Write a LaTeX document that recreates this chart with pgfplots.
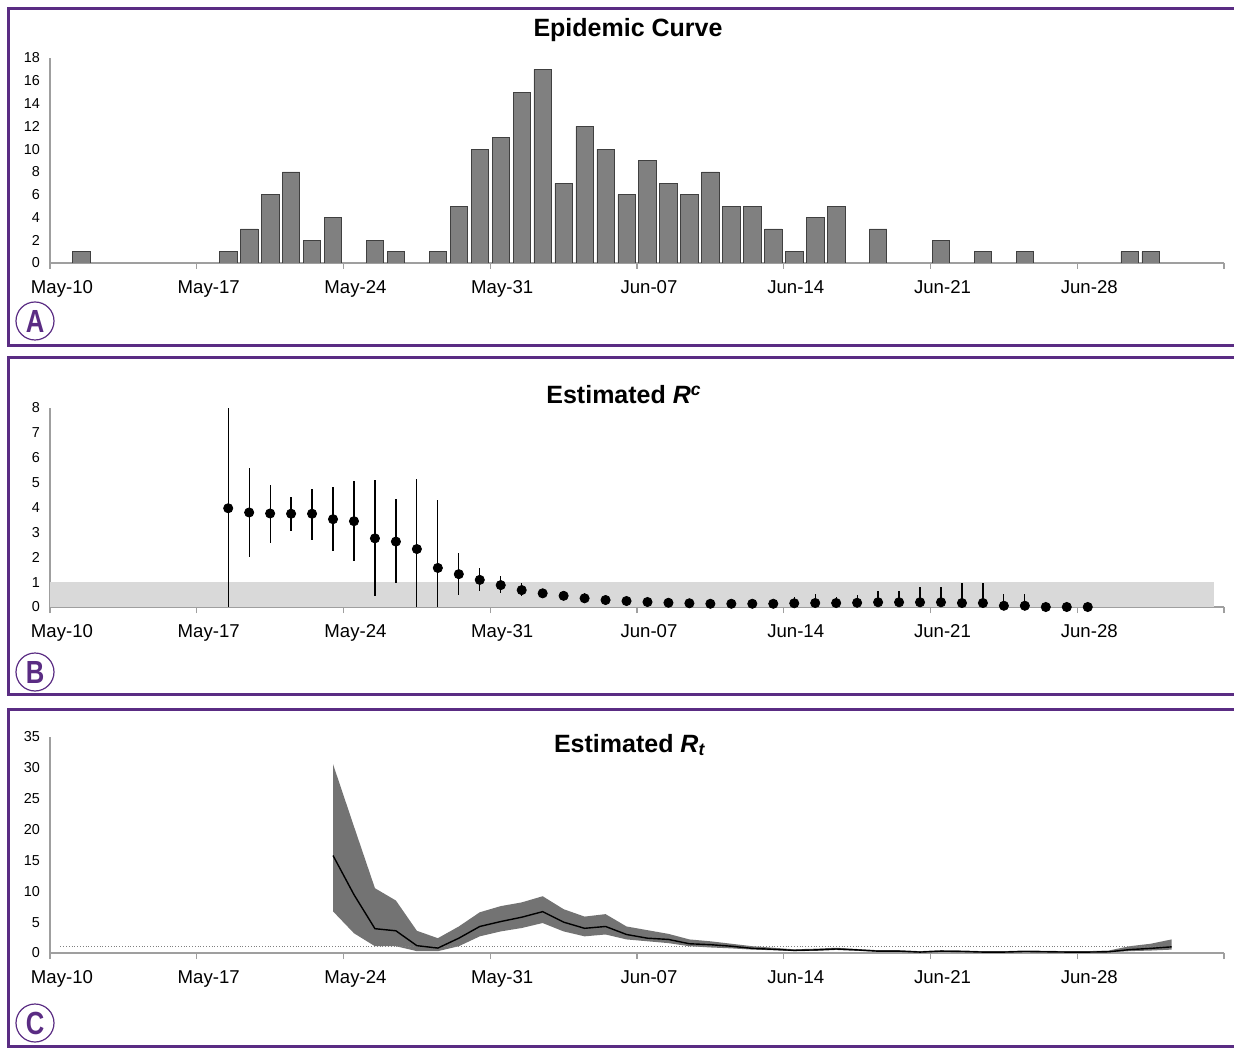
\documentclass[border=0pt]{standalone}
\usepackage{fontspec}
\setmainfont{Liberation Sans}
\usepackage{pgfplots}
\pgfplotsset{compat=1.18}
\usepackage{pgfplotstable}
\definecolor{framec}{RGB}{90,44,131}
\definecolor{barc}{RGB}{128,128,128}
\definecolor{bandc}{RGB}{217,217,217}
\definecolor{rtc}{RGB}{115,115,115}

\pgfplotstableread{
x y ep em
8.5 3.97 4.03 3.97
9.5 3.80 1.80 1.80
10.5 3.76 1.14 1.19
11.5 3.75 0.68 0.68
12.5 3.75 1.01 1.05
13.5 3.53 1.30 1.28
14.5 3.45 1.62 1.60
15.5 2.76 2.33 2.32
16.5 2.63 1.70 1.66
17.5 2.33 2.80 2.33
18.5 1.57 2.74 1.57
19.5 1.32 0.85 0.83
20.5 1.09 0.48 0.46
21.5 0.88 0.37 0.33
22.5 0.68 0.28 0.24
23.5 0.55 0.15 0.10
24.5 0.45 0.15 0.10
25.5 0.35 0.23 0.15
26.5 0.28 0.14 0.08
27.5 0.24 0.12 0.06
28.5 0.20 0.10 0.05
29.5 0.17 0.19 0.05
30.5 0.15 0.15 0.05
31.5 0.13 0.12 0.05
32.5 0.13 0.12 0.05
33.5 0.13 0.12 0.05
34.5 0.13 0.12 0.05
35.5 0.15 0.25 0.07
36.5 0.16 0.37 0.08
37.5 0.16 0.24 0.08
38.5 0.17 0.33 0.09
39.5 0.19 0.46 0.11
40.5 0.19 0.46 0.11
41.5 0.19 0.62 0.11
42.5 0.19 0.62 0.11
43.5 0.16 0.81 0.11
44.5 0.16 0.81 0.11
45.5 0.05 0.47 0.05
46.5 0.05 0.47 0.05
47.5 0.00 0.00 0.00
48.5 0.00 0.00 0.00
49.5 0.00 0.00 0.00
}\rctable

\pgfplotstableread{
x m
13.5 15.8
14.5 9.45
15.5 3.94
16.5 3.6
17.5 1.19
18.5 0.8
19.5 2.4
20.5 4.3
21.5 5.1
22.5 5.8
23.5 6.7
24.5 5.0
25.5 4.0
26.5 4.3
27.5 3.0
28.5 2.4
29.5 2.2
30.5 1.5
31.5 1.35
32.5 1.1
33.5 0.75
34.5 0.6
35.5 0.43
36.5 0.5
37.5 0.65
38.5 0.5
39.5 0.3
40.5 0.3
41.5 0.15
42.5 0.3
43.5 0.25
44.5 0.15
45.5 0.15
46.5 0.25
47.5 0.2
48.5 0.15
49.5 0.15
50.5 0.2
51.5 0.55
52.5 0.75
53.5 1.0
}\rttable

\pgfplotsset{
  panel/.style={
    scale only axis, width=587pt,
    xmin=0, xmax=56,
    axis lines*=left,
    axis line style={draw=gray!75, line width=0.6pt},
    xtick={0,7,...,56},
    xticklabels={May-10,May-17,May-24,May-31,Jun-07,Jun-14,Jun-21,Jun-28,{}},
    x tick style={draw=gray!75, line width=0.6pt},
    tick align=outside, major tick length=3pt,
    ytick style={draw=none},
    xticklabel style={font=\fontsize{9.3}{10}\selectfont, text height=7pt, text depth=2pt, xshift=6pt, yshift=-1.5pt},
    yticklabel style={font=\fontsize{7.2}{8}\selectfont, xshift=1.5pt},
    /pgf/number format/assume math mode=true,
  }
}

\begin{document}
\begin{tikzpicture}[x=0.5pt,y=0.5pt]
\useasboundingbox (0,0) rectangle (1234,1050);
\coordinate (pA) at (50,787);
\coordinate (pB) at (50,443);
\coordinate (pC) at (50,97);
% frames
\draw[framec, line width=1.5pt] (1260,1041) -- (8.5,1041) -- (8.5,704.5) -- (1260,704.5);
\draw[framec, line width=1.5pt] (1260,692.5) -- (8.5,692.5) -- (8.5,356) -- (1260,356);
\draw[framec, line width=1.5pt] (1260,341) -- (8.5,341) -- (8.5,3.5) -- (1260,3.5);
% circled labels
\foreach \yy/\lab in {729/A,378/B,27/C}{
  \draw[framec, line width=0.6pt] (35,\yy) circle[radius=19];
  \node[text=framec, font=\fontsize{16}{16}\selectfont\bfseries, xscale=0.8] at (35,\yy) {\lab};
}
% titles
\node[font=\fontsize{12.5}{15}\selectfont\bfseries] at (628,1020) {Epidemic Curve};
\node[font=\fontsize{12.5}{15}\selectfont\bfseries] at (624,655) {Estimated \textit{R}\textsuperscript{\textit{c}}};
\node[font=\fontsize{12.5}{15}\selectfont\bfseries] at (630,305) {Estimated \textit{R}\textsubscript{\textit{t}}};

% Panel A
\begin{axis}[panel, at={(pA)}, anchor=south west, height=102.5pt,
  ymin=0, ymax=18, ytick={0,2,...,18}]
\addplot[ybar, bar width=0.83, fill=barc, draw=black!75, line width=0.3pt] coordinates {
(1.5,1) (8.5,1) (9.5,3) (10.5,6) (11.5,8) (12.5,2) (13.5,4) (15.5,2) (16.5,1)
(18.5,1) (19.5,5) (20.5,10) (21.5,11) (22.5,15) (23.5,17) (24.5,7) (25.5,12)
(26.5,10) (27.5,6) (28.5,9) (29.5,7) (30.5,6) (31.5,8) (32.5,5) (33.5,5)
(34.5,3) (35.5,1) (36.5,4) (37.5,5) (39.5,3) (42.5,2) (44.5,1) (46.5,1)
(51.5,1) (52.5,1)};
\end{axis}

% Panel B
\begin{axis}[panel, at={(pB)}, anchor=south west, height=99.5pt,
  ymin=0, ymax=8, ytick={0,1,...,8}]
\addplot[fill=bandc, draw=none] coordinates {(0,1) (55.5,1)} \closedcycle;
\addplot[only marks, mark=*, mark size=2.3pt, black,
  error bars/.cd, y dir=both, y explicit, error mark=none,
  error bar style={line width=0.6pt, black}]
  table[x=x, y=y, y error plus=ep, y error minus=em]{\rctable};
\end{axis}

% Panel C
\begin{axis}[panel, at={(pC)}, anchor=south west, height=108pt,
  ymin=0, ymax=35, ytick={0,5,...,35}]
\addplot[fill=rtc, draw=none] coordinates {
(13.5,30.6)(14.5,20.5)(15.5,10.5)(16.5,8.5)(17.5,3.6)(18.5,2.4)(19.5,4.3)(20.5,6.6)
(21.5,7.6)(22.5,8.2)(23.5,9.2)(24.5,7.1)(25.5,5.9)(26.5,6.3)(27.5,4.3)(28.5,3.7)
(29.5,3.1)(30.5,2.2)(31.5,1.9)(32.5,1.5)(33.5,1.1)(34.5,0.85)(35.5,0.6)(36.5,0.7)
(37.5,0.85)(38.5,0.65)(39.5,0.45)(40.5,0.45)(41.5,0.3)(42.5,0.45)(43.5,0.4)(44.5,0.3)
(45.5,0.3)(46.5,0.4)(47.5,0.35)(48.5,0.3)(49.5,0.3)(50.5,0.4)(51.5,1.1)(52.5,1.5)(53.5,2.2)
(53.5,0.55)(52.5,0.4)(51.5,0.3)(50.5,0.1)(49.5,0.08)(48.5,0.08)(47.5,0.1)(46.5,0.15)
(45.5,0.08)(44.5,0.08)(43.5,0.15)(42.5,0.2)(41.5,0.08)(40.5,0.2)(39.5,0.2)(38.5,0.35)
(37.5,0.5)(36.5,0.35)(35.5,0.3)(34.5,0.45)(33.5,0.55)(32.5,0.75)(31.5,0.9)(30.5,1.1)
(29.5,1.6)(28.5,1.9)(27.5,2.2)(26.5,3.0)(25.5,2.7)(24.5,3.5)(23.5,4.86)(22.5,4.05)
(21.5,3.5)(20.5,2.7)(19.5,1.1)(18.5,0.3)(17.5,0.3)(16.5,1.1)(15.5,1.1)(14.5,3.2)(13.5,6.75)
} -- cycle;
\addplot[gray, densely dotted, line width=0.4pt] coordinates {(0.5,1) (53.5,1)};
\addplot[black, line width=0.7pt] table[x=x, y=m]{\rttable};
\end{axis}
\end{tikzpicture}
\end{document}
